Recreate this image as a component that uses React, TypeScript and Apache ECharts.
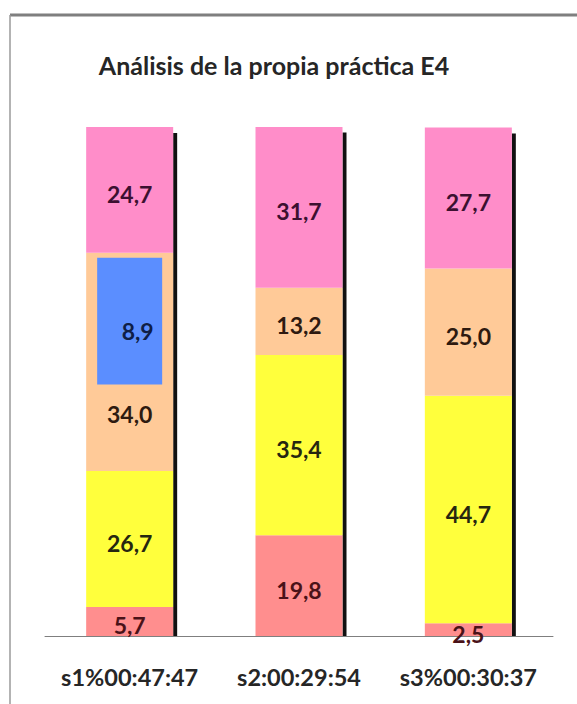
import React, { useEffect, useRef } from "react";
import * as echarts from "echarts";

const titleText = "Análisis de la propia práctica E4";
const categories = ["s1%00:47:47", "s2:00:29:54", "s3%00:30:37"];
const red = [5.7, 19.8, 2.5];
const yellow = [26.7, 35.4, 44.7];
const peach = [34.0, 13.2, 25.0];
const blue = [8.9, 0, 0];
const pink = [24.7, 31.7, 27.7];

const FONT = "Lato";
const BAR_W = 87;

const fmt = (v: number) => v.toFixed(1).replace(".", ",");

export default function App() {
  const ref = useRef<HTMLDivElement>(null);
  useEffect(() => {
    if (!ref.current) return;
    const chart = echarts.init(ref.current, null, { renderer: "svg" });

    const totals = categories.map((_, i) => red[i] + yellow[i] + peach[i] + blue[i] + pink[i]);
    const blueOverlay = categories
      .map((_, i) => [i, red[i] + yellow[i] + peach[i] / 2, red[i] + yellow[i] + peach[i] + blue[i], blue[i]])
      .filter((d) => d[3] > 0);

    const labelBase = {
      show: true,
      position: "inside",
      offset: [0, 4],
      fontFamily: FONT,
      fontSize: 23,
      fontWeight: "bold",
      formatter: (p: any) => fmt(p.value),
    };

    const mk = (name: string, arr: number[], color: string, labelColor: string, extra?: (v: number, i: number) => any) => ({
      name,
      type: "bar",
      stack: "total",
      barWidth: BAR_W,
      itemStyle: { color },
      label: { ...labelBase, color: labelColor },
      data: arr.map((v, i) => (extra ? { value: v, ...extra(v, i) } : v)),
    });

    const option: any = {
      animation: false,
      backgroundColor: "#ffffff",
      title: {
        text: titleText,
        left: 269,
        textAlign: "center",
        top: 47,
        textStyle: { fontFamily: FONT, fontSize: 25, fontWeight: "bold", color: "#262626" },
      },
      graphic: [
        { type: "line", shape: { x1: 10, y1: 15, x2: 577, y2: 15 }, style: { stroke: "#7f7f7f", lineWidth: 3 } },
        { type: "line", shape: { x1: 10, y1: 15, x2: 10, y2: 704 }, style: { stroke: "#9a9a9a", lineWidth: 1.5 } },
      ],
      grid: { left: 45, right: 24, top: 127, bottom: 68 },
      xAxis: {
        type: "category",
        data: categories,
        axisLine: { show: true, lineStyle: { color: "#7f7f7f", width: 1 } },
        axisTick: { show: false },
        axisLabel: {
          interval: 0,
          hideOverlap: false,
          margin: 29,
          fontFamily: FONT,
          fontSize: 23.5,
          fontWeight: "bold",
          color: "#262626",
        },
      },
      yAxis: { type: "value", min: 0, max: 100, show: false },
      series: [
        mk("red", red, "#FF8E8E", "#4a1218"),
        mk("yellow", yellow, "#FFFF3C", "#262610"),
        mk("peach", peach, "#FFCA98", "#2e1a10", (v, i) =>
          blue[i] > 0 ? { label: { offset: [0, 29] } } : {}
        ),
        {
          name: "blueStack",
          type: "bar",
          stack: "total",
          barWidth: BAR_W,
          itemStyle: { color: "#FFCA98" },
          label: { show: false },
          data: blue,
        },
        mk("pink", pink, "#FF8DC9", "#3c1030"),
        {
          name: "blueOverlay",
          type: "custom",
          encode: { x: 0, y: [1, 2] },
          data: blueOverlay,
          z: 5,
          renderItem: (params: any, api: any) => {
            const idx = api.value(0);
            const b = api.coord([idx, api.value(1)]);
            const t = api.coord([idx, api.value(2)]);
            const w = BAR_W - 22;
            const x0 = b[0] - w / 2;
            const y0 = t[1] + 5;
            const h = b[1] - y0;
            return {
              type: "group",
              children: [
                { type: "rect", shape: { x: x0, y: y0, width: w, height: h }, style: { fill: "#5B8EFF" } },
                {
                  type: "text",
                  style: {
                    text: fmt(api.value(3)),
                    x: b[0] + 8,
                    y: y0 + h / 2 + 10,
                    align: "center",
                    verticalAlign: "middle",
                    font: `bold 23px ${FONT}`,
                    fill: "#0f1e46",
                  },
                },
              ],
            };
          },
        },
        {
          name: "shadowLine",
          type: "custom",
          encode: { x: 0, y: 1 },
          data: totals.map((t, i) => [i, t]),
          renderItem: (params: any, api: any) => {
            const idx = api.value(0);
            const b = api.coord([idx, 0]);
            const t = api.coord([idx, api.value(1)]);
            const x = b[0] + BAR_W / 2 + 2;
            return {
              type: "line",
              shape: { x1: x, y1: t[1] + 6, x2: x, y2: b[1] },
              style: { stroke: "#111111", lineWidth: 4 },
            };
          },
        },
      ],
    };
    chart.setOption(option);
    return () => chart.dispose();
  }, []);
  return (
    <div
      ref={ref}
      style={{ width: 577, height: 704, position: "absolute", left: 0, top: 0 }}
    />
  );
}
